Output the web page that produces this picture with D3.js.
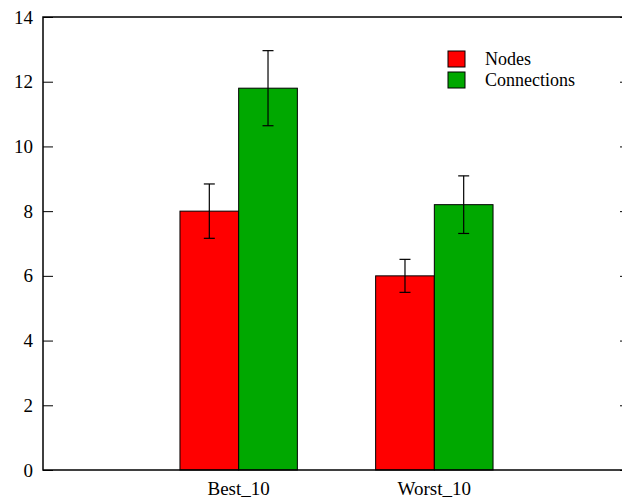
<!DOCTYPE html>
<html>
<head>
<meta charset="utf-8">
<script src="https://cdn.jsdelivr.net/npm/d3@7"></script>
<style>
  body { margin: 0; background: #fff; }
  svg { display: block; }
  text { font-family: 'Liberation Serif', 'Times New Roman', Times, 'DejaVu Serif', serif; }
</style>
</head>
<body>
<svg id="svg" width="622" height="498"></svg>
<script>
let categories = ['Best_10', 'Worst_10'];
let seriesNames = ['Nodes', 'Connections'];
let nodes = [8.0, 6.0];
let nodesErr = [0.84, 0.51];
let connections = [11.8, 8.2];
let connectionsErr = [1.16, 0.89];
let yTicks = [0, 2, 4, 6, 8, 10, 12, 14];
let colorSet = ['#ff0000', '#00a800'];

let fontFamily = "'Liberation Serif', 'Times New Roman', Times, 'DejaVu Serif', serif";

let margin = {top: 17, bottom: 28, left: 43, right: -8};
let svgWidth = 622;
let svgHeight = 498;
let width = svgWidth - margin.left - margin.right;
let height = svgHeight - margin.top - margin.bottom;

let svg = d3.select('#svg');
let gChart = svg.append('g')
  .attr('transform', `translate(${margin.left},${margin.top})`);

// gnuplot-style histogram: category i sits at x = i, range [-1, 2]
let xScale = d3.scaleLinear().domain([-1, categories.length]).range([0, width]);
let yScale = d3.scaleLinear().domain([0, 14]).range([height, 0]);
let barWidth = 0.3;

let series = [
  {name: seriesNames[0], vals: nodes, errs: nodesErr, color: colorSet[0], offset: -barWidth},
  {name: seriesNames[1], vals: connections, errs: connectionsErr, color: colorSet[1], offset: 0}
];

// y axes (left with labels, right mirror ticks)
let yAxisLeft = d3.axisLeft(yScale).tickValues(yTicks).tickSize(-10).tickPadding(10);
let gYAxis = gChart.append('g').call(yAxisLeft);
gYAxis.select('.domain').remove();
gYAxis.selectAll('.tick line').attr('stroke', '#000');
gYAxis.selectAll('.tick text')
  .attr('fill', '#000')
  .style('font-size', '19px')
  .style('font-family', fontFamily);

let yAxisRight = d3.axisRight(yScale).tickValues(yTicks).tickSize(-10).tickFormat('');
let gYAxisR = gChart.append('g')
  .attr('transform', `translate(${width},0)`)
  .call(yAxisRight);
gYAxisR.select('.domain').remove();
gYAxisR.selectAll('.tick line').attr('stroke', '#000');

// bars
series.forEach(s => {
  let g = gChart.append('g');
  g.selectAll('rect')
    .data(s.vals)
    .enter()
    .append('rect')
    .attr('x', (d, i) => xScale(i + s.offset))
    .attr('y', d => yScale(d))
    .attr('width', xScale(barWidth) - xScale(0))
    .attr('height', d => yScale(0) - yScale(d))
    .attr('fill', s.color)
    .attr('stroke', '#000')
    .attr('stroke-width', 1);
});

// error bars
series.forEach(s => {
  let g = gChart.append('g').attr('stroke', '#000').attr('stroke-width', 1.2);
  s.vals.forEach((d, i) => {
    let cx = xScale(i + s.offset + barWidth / 2);
    let lo = yScale(d - s.errs[i]);
    let hi = yScale(d + s.errs[i]);
    g.append('line').attr('x1', cx).attr('x2', cx).attr('y1', lo).attr('y2', hi);
    g.append('line').attr('x1', cx - 5.5).attr('x2', cx + 5.5).attr('y1', lo).attr('y2', lo);
    g.append('line').attr('x1', cx - 5.5).attr('x2', cx + 5.5).attr('y1', hi).attr('y2', hi);
  });
});

// x labels
gChart.append('g')
  .selectAll('text')
  .data(categories)
  .enter()
  .append('text')
  .attr('x', (d, i) => xScale(i))
  .attr('y', height + 25)
  .attr('text-anchor', 'middle')
  .style('font-size', '19px')
  .style('font-family', fontFamily)
  .text(d => d);

// frame
gChart.append('rect')
  .attr('width', width)
  .attr('height', height)
  .attr('fill', 'none')
  .attr('stroke', '#000')
  .attr('stroke-width', 1.5);

// legend
let gLegend = gChart.append('g').attr('transform', 'translate(405,34)');
series.forEach((s, i) => {
  let row = gLegend.append('g').attr('transform', `translate(0,${i * 21})`);
  row.append('rect')
    .attr('width', 17)
    .attr('height', 16)
    .attr('fill', s.color)
    .attr('stroke', '#000');
  row.append('text')
    .attr('x', 37)
    .attr('y', 14)
    .style('font-size', '18px')
    .style('font-family', fontFamily)
    .text(s.name);
});
</script>
</body>
</html>
